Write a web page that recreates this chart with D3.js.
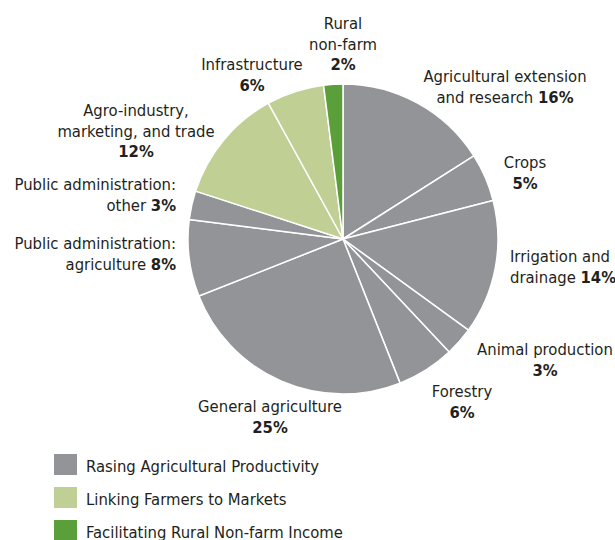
<!DOCTYPE html>
<html><head><meta charset="utf-8">
<script src="https://cdn.jsdelivr.net/npm/d3@7"></script>
<style>
body{margin:0;background:#fff;}
text{font-family:"DejaVu Sans Condensed","Liberation Sans Narrow",sans-serif;font-size:16.5px;fill:#231f20;}
</style></head>
<body><svg id="c" width="615" height="540"></svg>
<script>
const categories = ["Agricultural extension and research","Crops","Irrigation and drainage","Animal production","Forestry","General agriculture","Public administration: agriculture","Public administration: other","Agro-industry, marketing, and trade","Infrastructure","Rural non-farm"];
const values = [16,5,14,3,6,25,8,3,12,6,2];
const groups = ["prod","prod","prod","prod","prod","prod","prod","prod","mkt","mkt","nonfarm"];
const legendLabels = ["Rasing Agricultural Productivity","Linking Farmers to Markets","Facilitating Rural Non-farm Income"];
const legendKeys = ["prod","mkt","nonfarm"];
// label lines: [plain text, bold percentage]
const labelLines = [
  [["Agricultural extension",""],["and research ","16%"]],
  [["Crops",""],["","5%"]],
  [["Irrigation and",""],["drainage ","14%"]],
  [["Animal production",""],["","3%"]],
  [["Forestry",""],["","6%"]],
  [["General agriculture",""],["","25%"]],
  [["Public administration:",""],["agriculture ","8%"]],
  [["Public administration:",""],["other ","3%"]],
  [["Agro-industry,",""],["marketing, and trade",""],["","12%"]],
  [["Infrastructure",""],["","6%"]],
  [["Rural",""],["non-farm",""],["","2%"]]
];
const labelPos = [[505,82,"middle"],[525,168,"middle"],[510,262,"start"],[545,355,"middle"],[462,397,"middle"],[270,412,"middle"],[176,249,"end"],[176,190,"end"],[136,116,"middle"],[252,70,"middle"],[343,29,"middle"]];

const color = d3.scaleOrdinal().domain(legendKeys).range(["#929497","#c0cf93","#5b9f3a"]);
const svg = d3.select("#c");
const cx=343, cy=239, R=155;
const pie = d3.pie().sort(null).value(d=>d.v);
const data = values.map((v,i)=>({v,i,g:groups[i]}));
const arc = d3.arc().innerRadius(0).outerRadius(R);
const g = svg.append("g").attr("transform",`translate(${cx},${cy})`);
g.selectAll("path").data(pie(data)).join("path")
  .attr("d",arc).attr("fill",d=>color(d.data.g))
  .attr("stroke","#fff").attr("stroke-width",1.5).attr("stroke-linejoin","round");

const lh = 20.5;
labelLines.forEach((lines,i)=>{
  const [x,y,anchor]=labelPos[i];
  const t = svg.append("text").attr("x",x).attr("y",y).attr("text-anchor",anchor);
  lines.forEach((ln,j)=>{
    const ts = t.append("tspan").attr("x",x).attr("dy", j===0?0:lh);
    if(ln[0]) ts.text(ln[0]);
    if(ln[1]) {
      if(ln[0]) { t.append("tspan").attr("font-weight","bold").text(ln[1]); }
      else ts.attr("font-weight","bold").text(ln[1]);
    }
  });
});

const lg = svg.append("g");
legendLabels.forEach((l,i)=>{
  lg.append("rect").attr("x",54).attr("y",454+i*33).attr("width",23).attr("height",21).attr("fill",color(legendKeys[i]));
  lg.append("text").attr("x",86).attr("y",472+i*33).text(l);
});
</script></body></html>
